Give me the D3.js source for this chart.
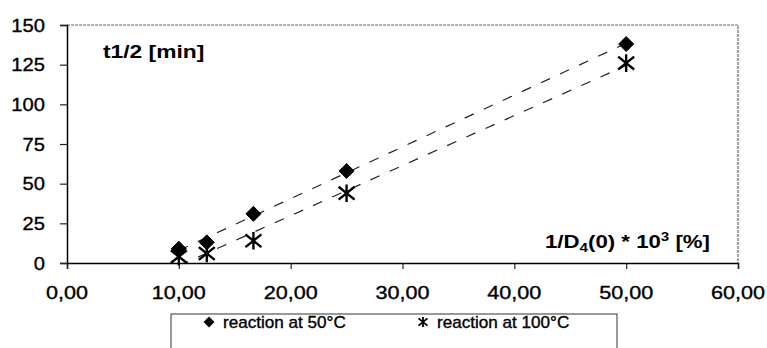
<!DOCTYPE html>
<html>
<head>
<meta charset="utf-8">
<script src="https://cdn.jsdelivr.net/npm/d3@7"></script>
<style>
  html, body { margin: 0; padding: 0; background: #fff; }
  svg { display: block; }
  text { font-family: "Liberation Sans", Arial, sans-serif; fill: #000; }
  text.reg { stroke: #000; stroke-width: 0.35px; }
</style>
</head>
<body>
<svg id="chart" width="767" height="348"></svg>
<script>
// ---- data ----
const xValues = [10.0, 12.5, 16.67, 25.0, 50.0];
const series50 = [9, 13, 31, 58, 138];
const series100 = [4, 6, 14, 44, 126];
const seriesNames = ["reaction at 50°C", "reaction at 100°C"];
const xTicks = [0, 10, 20, 30, 40, 50, 60];
const yTicks = [0, 25, 50, 75, 100, 125, 150];

const svg = d3.select("#chart");
const L = 67, R = 738, T = 25, B = 263;
const x = d3.scaleLinear().domain([0, 60]).range([L, R]);
const y = d3.scaleLinear().domain([0, 150]).range([B, T]);

// stretched text helper
function stext(g, px, py, str, opts) {
  const t = g.append("text")
    .attr("class", opts.bold ? "bold" : "reg")
    .attr("transform", `translate(${px},${py}) scale(${opts.sx || 1},1)`)
    .attr("font-size", opts.size)
    .attr("font-weight", opts.bold ? "bold" : "normal")
    .attr("text-anchor", opts.anchor || "start");
  if (typeof str === "string") t.text(str); else str(t);
  return t;
}

svg.append("defs").append("clipPath").attr("id", "plotClip")
  .append("rect").attr("x", L).attr("y", T).attr("width", R - L).attr("height", B - T);

// frame top/right (faint dotted)
svg.append("path")
  .attr("d", `M${L},${T}H${R}V${B}`)
  .attr("fill", "none").attr("stroke", "#666").attr("stroke-width", 1.2)
  .attr("stroke-dasharray", "3,1");

// y axis
const yAxis = d3.axisLeft(y).tickValues(yTicks).tickSize(7).tickFormat(d3.format("d"));
const gy = svg.append("g").attr("transform", `translate(${L},0)`).call(yAxis);
gy.select(".domain").attr("stroke", "#000").attr("stroke-width", 1.5);
gy.selectAll(".tick line").attr("stroke", "#222").attr("stroke-width", 1.2);
gy.selectAll(".tick text").remove();
yTicks.forEach(v => {
  stext(svg, 45, y(v) + 6.5, String(v), { size: 18, sx: 1.12, anchor: "end" });
});

// x axis
const xAxis = d3.axisBottom(x).tickValues(xTicks).tickSize(6);
const gx = svg.append("g").attr("transform", `translate(0,${B})`).call(xAxis);
gx.select(".domain").attr("stroke", "#000").attr("stroke-width", 1.5);
gx.selectAll(".tick line").attr("stroke", "#222").attr("stroke-width", 1.2);
gx.selectAll(".tick text").remove();
const fmtX = d => d3.format(".2f")(d).replace(".", ",");
xTicks.forEach(v => {
  stext(svg, x(v), 299, fmtX(v), { size: 18, sx: 1.2, anchor: "middle" });
});

// linear regression trendlines
function regress(xs, ys) {
  const mx = d3.mean(xs), my = d3.mean(ys);
  let sxy = 0, sxx = 0;
  xs.forEach((xv, i) => { sxy += (xv - mx) * (ys[i] - my); sxx += (xv - mx) ** 2; });
  const m = sxy / sxx;
  return { m, b: my - m * mx };
}
const trendG = svg.append("g").attr("clip-path", "url(#plotClip)");
[series50, series100].forEach(s => {
  const r = regress(xValues, s);
  const x0 = d3.min(xValues), x1 = d3.max(xValues);
  trendG.append("line")
    .attr("x1", x(x0)).attr("y1", y(r.m * x0 + r.b))
    .attr("x2", x(x1)).attr("y2", y(r.m * x1 + r.b))
    .attr("stroke", "#222").attr("stroke-width", 1.2)
    .attr("stroke-dasharray", "10,11");
});

// markers
const diamond = s => `M0,${-s}L${s},0L0,${s}L${-s},0Z`;
const star = s => `M${-s},${-s * 0.8}L${s},${s * 0.8}M${-s},${s * 0.8}L${s},${-s * 0.8}M0,${-s * 1.1}L0,${s * 1.1}`;

svg.append("g").selectAll("path").data(xValues.map((xv, i) => [xv, series100[i]]))
  .join("path")
  .attr("transform", d => `translate(${x(d[0])},${y(d[1])})`)
  .attr("d", star(8))
  .attr("fill", "none").attr("stroke", "#000").attr("stroke-width", 2.4);

svg.append("g").selectAll("path").data(xValues.map((xv, i) => [xv, series50[i]]))
  .join("path")
  .attr("transform", d => `translate(${x(d[0])},${y(d[1])})`)
  .attr("d", diamond(7.5))
  .attr("fill", "#000").attr("stroke", "#000").attr("stroke-width", 1).attr("stroke-linejoin", "round");

// titles
stext(svg, 103, 58, "t1/2 [min]", { size: 19, bold: true, sx: 1.2 });
stext(svg, 545, 248, t => {
  t.append("tspan").text("1/D");
  t.append("tspan").attr("font-size", 13).attr("dy", 4).text("4");
  t.append("tspan").attr("dy", -4).text("(0) * 10");
  t.append("tspan").attr("font-size", 13).attr("dy", -7).text("3");
  t.append("tspan").attr("dy", 7).text(" [%]");
}, { size: 19, bold: true, sx: 1.17 });

// legend
const lg = svg.append("g");
lg.append("rect").attr("x", 171).attr("y", 314).attr("width", 446).attr("height", 50)
  .attr("fill", "#fff").attr("stroke", "#333").attr("stroke-width", 1);
lg.append("path").attr("transform", "translate(209,322)").attr("d", diamond(5.5)).attr("fill", "#000");
stext(lg, 223, 328, seriesNames[0], { size: 16, sx: 1.07 });
lg.append("path").attr("transform", "translate(423,322)").attr("d", star(4.5))
  .attr("fill", "none").attr("stroke", "#000").attr("stroke-width", 1.8);
stext(lg, 437, 328, seriesNames[1], { size: 16, sx: 1.07 });
</script>
</body>
</html>
